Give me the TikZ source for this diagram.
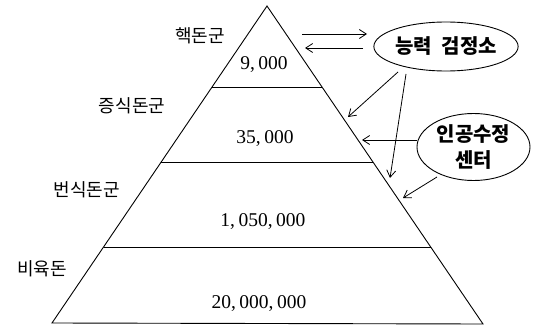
\documentclass[tikz,border=0pt]{standalone}
\usepackage{fontspec}
\setmainfont{Liberation Serif}
\newfontfamily\kr{Noto Sans CJK KR}
\usetikzlibrary{arrows.meta,shapes.geometric}
\tikzset{
  edge/.style={line width=0.9pt},
  arr/.style={line width=0.8pt,-{Straight Barb[length=7pt,width=9pt,line width=0.8pt]}},
  num/.style={font=\fontsize{19.5}{19.5}\selectfont, inner sep=0pt},
  lab/.style={font=\kr\fontsize{18}{18}\selectfont, inner sep=0pt},
  oval/.style={draw, ellipse, line width=0.9pt, inner sep=0pt, font=\kr\bfseries\fontsize{20}{26}\selectfont, align=center}
}
\begin{document}
\begin{tikzpicture}[x=1pt,y=-1pt]
\useasboundingbox (0,0) rectangle (536,329);
% pyramid
\coordinate (apex) at (267,6);
\coordinate (bl) at (52,323);
\coordinate (br) at (483,324);
\draw[edge, line join=miter] (bl) -- (apex) -- (br) -- cycle;
\coordinate (l1a) at (212.1,87);  \coordinate (l1b) at (322.0,87);
\coordinate (l2a) at (161.2,162); \coordinate (l2b) at (373.0,162);
\coordinate (l3a) at (103.6,247); \coordinate (l3b) at (430.7,247);
\draw[edge] (l1a) -- (l1b);
\draw[edge] (l2a) -- (l2b);
\draw[edge] (l3a) -- (l3b);
% numbers
\node[num] (n1) at (264,65) {9,\hspace{0.18em}000};
\node[num] (n2) at (265,139) {35,\hspace{0.18em}000};
\node[num] (n3) at (263,222) {1,\hspace{0.18em}050,\hspace{0.18em}000};
\node[num] (n4) at (259,304) {20,\hspace{0.18em}000,\hspace{0.18em}000};
% labels
\node[lab] (t1) at (200,36) {핵돈군};
\node[lab] (t2) at (132,106) {증식돈군};
\node[lab] (t3) at (87,190) {번식돈군};
\node[lab] (t4) at (42,269) {비육돈};
% ellipses
\node[oval, minimum width=142pt, minimum height=49pt] (e1) at (446,46.5) {능력\hspace{10pt}검정소};
\node[oval, minimum width=113pt, minimum height=67pt] (e2) at (473.5,147) {인공수정\\센터};
% arrows between pyramid and e1
\coordinate (d1s) at (302,34);  \coordinate (d1e) at (367,34);
\coordinate (d2s) at (363,48);  \coordinate (d2e) at (305,48);
\draw[arr] (d1s) -- (d1e);
\draw[arr] (d2s) -- (d2e);
\coordinate (a1s) at (398,72);  \coordinate (a1e) at (348,117);
\coordinate (a2s) at (406,74);  \coordinate (a2e) at (390,178);
\draw[arr] (a1s) -- (a1e);
\draw[arr] (a2s) -- (a2e);
\coordinate (b1s) at (417,140); \coordinate (b1e) at (362,140);
\coordinate (b2s) at (437,177); \coordinate (b2e) at (403,198);
\draw[arr] (b1s) -- (b1e);
\draw[arr] (b2s) -- (b2e);
\end{tikzpicture}
\end{document}
